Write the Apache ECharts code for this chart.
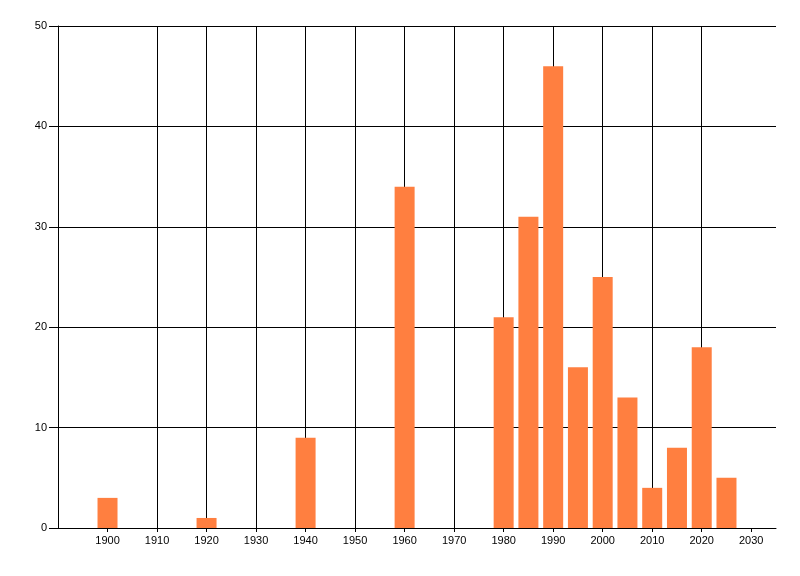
<!DOCTYPE html>
<html>
<head>
<meta charset="utf-8">
<script src="https://cdn.jsdelivr.net/npm/echarts@6/dist/echarts.min.js"></script>
<style>
  html, body { margin: 0; padding: 0; background: #fff; }
  #chart { width: 800px; height: 576px; }
</style>
</head>
<body>
<div id="chart"></div>
<script>
// 年份和数量
const years = [1900, 1920, 1940, 1960, 1980, 1985, 1990, 1995, 2000, 2005, 2010, 2015, 2020, 2025]
const counts = [3, 1, 9, 34, 21, 31, 46, 16, 25, 13, 4, 8, 18, 5]
const xTicks = [1900, 1910, 1920, 1930, 1940, 1950, 1960, 1970, 1980, 1990, 2000, 2010, 2020, 2030]
const yTicks = [0, 10, 20, 30, 40, 50]

const labelFont = {
  color: '#000',
  fontFamily: 'Liberation Sans',
  fontSize: 11,
}

const chart = echarts.init(document.getElementById('chart'))

chart.setOption({
  animation: false,
  grid: { left: 58, right: 24, top: 26, bottom: 48 },
  xAxis: {
    type: 'value',
    min: 1890,
    max: 2035,
    interval: 10,
    axisLine: { show: true, lineStyle: { color: '#000', width: 1 } },
    axisTick: { show: true, length: 4, lineStyle: { color: '#000' }, customValues: xTicks },
    axisLabel: { ...labelFont, margin: 7, customValues: xTicks, formatter: (v) => String(v) },
    splitLine: { show: true, showMinLine: false, showMaxLine: false, lineStyle: { color: '#000', width: 1 } },
  },
  yAxis: {
    type: 'value',
    min: yTicks[0],
    max: yTicks[yTicks.length - 1],
    interval: 10,
    axisLine: { show: true, lineStyle: { color: '#000', width: 1 } },
    axisTick: { show: true, length: 9, lineStyle: { color: '#000' } },
    axisLabel: { ...labelFont, margin: 11 },
    splitLine: { show: true, lineStyle: { color: '#000', width: 1 } },
  },
  series: [
    {
      type: 'bar',
      barWidth: 20,
      data: years.map((y, i) => [y, counts[i]]),
      itemStyle: { color: '#ff7f40' },
    },
  ],
})
</script>
</body>
</html>
